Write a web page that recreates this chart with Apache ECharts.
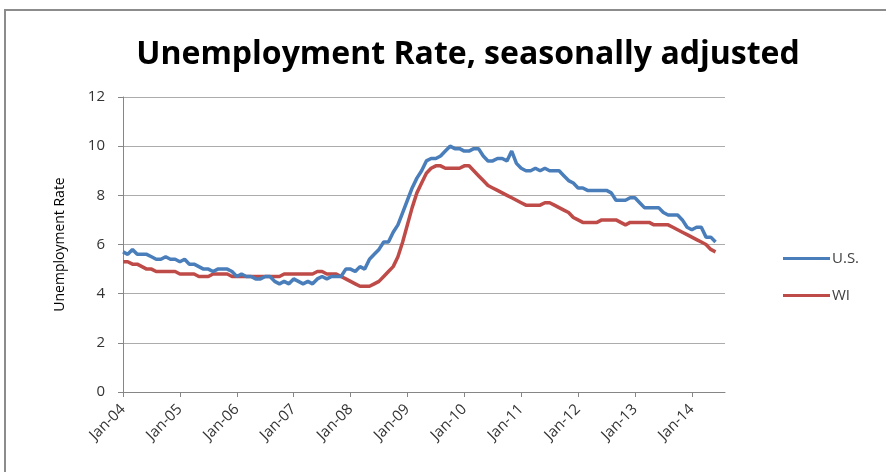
<!DOCTYPE html>
<html>
<head>
<meta charset="utf-8">
<title>Unemployment Rate, seasonally adjusted</title>
<script src="https://cdn.jsdelivr.net/npm/echarts@6/dist/echarts.min.js"></script>
<style>
  html, body { margin: 0; padding: 0; background: #ffffff; }
  #chart { width: 886px; height: 472px; }
</style>
</head>
<body>
<div id="chart"></div>
<script>
// Monthly axis: Jan 2004 through Aug 2014 (the last two months carry no data yet)
const monthNames = ['Jan', 'Feb', 'Mar', 'Apr', 'May', 'Jun', 'Jul', 'Aug', 'Sep', 'Oct', 'Nov', 'Dec'];
const firstYear = 2004;
const monthCount = 128;

// Y axis ticks
const yTicks = [0, 2, 4, 6, 8, 10, 12];

// U.S. unemployment rate, seasonally adjusted, monthly from Jan 2004
const usRate = [
  5.7, 5.6, 5.8, 5.6, 5.6, 5.6, 5.5, 5.4, 5.4, 5.5, 5.4, 5.4,
  5.3, 5.4, 5.2, 5.2, 5.1, 5.0, 5.0, 4.9, 5.0, 5.0, 5.0, 4.9,
  4.7, 4.8, 4.7, 4.7, 4.6, 4.6, 4.7, 4.7, 4.5, 4.4, 4.5, 4.4,
  4.6, 4.5, 4.4, 4.5, 4.4, 4.6, 4.7, 4.6, 4.7, 4.7, 4.7, 5.0,
  5.0, 4.9, 5.1, 5.0, 5.4, 5.6, 5.8, 6.1, 6.1, 6.5, 6.8, 7.3,
  7.8, 8.3, 8.7, 9.0, 9.4, 9.5, 9.5, 9.6, 9.8, 10.0, 9.9, 9.9,
  9.8, 9.8, 9.9, 9.9, 9.6, 9.4, 9.4, 9.5, 9.5, 9.4, 9.8, 9.3,
  9.1, 9.0, 9.0, 9.1, 9.0, 9.1, 9.0, 9.0, 9.0, 8.8, 8.6, 8.5,
  8.3, 8.3, 8.2, 8.2, 8.2, 8.2, 8.2, 8.1, 7.8, 7.8, 7.8, 7.9,
  7.9, 7.7, 7.5, 7.5, 7.5, 7.5, 7.3, 7.2, 7.2, 7.2, 7.0, 6.7,
  6.6, 6.7, 6.7, 6.3, 6.3, 6.1
];

// Wisconsin unemployment rate, seasonally adjusted, monthly from Jan 2004
const wiRate = [
  5.3, 5.3, 5.2, 5.2, 5.1, 5.0, 5.0, 4.9, 4.9, 4.9, 4.9, 4.9,
  4.8, 4.8, 4.8, 4.8, 4.7, 4.7, 4.7, 4.8, 4.8, 4.8, 4.8, 4.7,
  4.7, 4.7, 4.7, 4.7, 4.7, 4.7, 4.7, 4.7, 4.7, 4.7, 4.8, 4.8,
  4.8, 4.8, 4.8, 4.8, 4.8, 4.9, 4.9, 4.8, 4.8, 4.8, 4.7, 4.6,
  4.5, 4.4, 4.3, 4.3, 4.3, 4.4, 4.5, 4.7, 4.9, 5.1, 5.5, 6.1,
  6.8, 7.5, 8.1, 8.5, 8.9, 9.1, 9.2, 9.2, 9.1, 9.1, 9.1, 9.1,
  9.2, 9.2, 9.0, 8.8, 8.6, 8.4, 8.3, 8.2, 8.1, 8.0, 7.9, 7.8,
  7.7, 7.6, 7.6, 7.6, 7.6, 7.7, 7.7, 7.6, 7.5, 7.4, 7.3, 7.1,
  7.0, 6.9, 6.9, 6.9, 6.9, 7.0, 7.0, 7.0, 7.0, 6.9, 6.8, 6.9,
  6.9, 6.9, 6.9, 6.9, 6.8, 6.8, 6.8, 6.8, 6.7, 6.6, 6.5, 6.4,
  6.3, 6.2, 6.1, 6.0, 5.8, 5.7
];

const seriesNames = ['U.S.', 'WI'];
const seriesColors = ['#4a7ebb', '#be4b48'];

const months = [];
for (let i = 0; i < monthCount; i++) {
  const y = firstYear + Math.floor(i / 12);
  months.push(monthNames[i % 12] + '-' + String(y % 100).padStart(2, '0'));
}

const isJanuary = (idx) => idx % 12 === 0;
const font = '"Open Sans", "Noto Sans", sans-serif';

const chart = echarts.init(document.getElementById('chart'), null, { renderer: 'canvas' });

chart.setOption({
  backgroundColor: '#ffffff',
  animation: false,
  graphic: [{
    type: 'rect',
    shape: { x: 5, y: 10, width: 900, height: 480 },
    style: { fill: 'none', stroke: '#8c8c8c', lineWidth: 2 },
    silent: true
  }],
  title: {
    text: 'Unemployment Rate, seasonally adjusted',
    left: 463,
    textAlign: 'center',
    top: 34,
    textStyle: { fontFamily: font, fontWeight: 'bold', fontSize: 32, color: '#000000' }
  },
  legend: {
    orient: 'vertical',
    left: 778,
    top: 246,
    itemWidth: 47,
    itemHeight: 3,
    itemGap: 22,
    icon: 'rect',
    textStyle: { fontFamily: font, fontSize: 15, color: '#404040', padding: [0, 0, 0, -3] },
    data: seriesNames
  },
  grid: { left: 123, right: 161, top: 97, bottom: 80, containLabel: false },
  xAxis: {
    type: 'category',
    data: months,
    boundaryGap: false,
    axisLine: { lineStyle: { color: '#868686', width: 1 } },
    axisTick: { show: true, interval: (idx) => isJanuary(idx), length: 5, lineStyle: { color: '#868686' } },
    axisLabel: {
      interval: (idx) => isJanuary(idx),
      rotate: 45,
      margin: 15,
      fontFamily: font,
      fontSize: 15,
      color: '#333333'
    },
    splitLine: { show: false }
  },
  yAxis: {
    type: 'value',
    min: yTicks[0],
    max: yTicks[yTicks.length - 1],
    interval: 2,
    name: 'Unemployment Rate',
    nameLocation: 'middle',
    nameGap: 56,
    nameRotate: 90,
    nameTextStyle: { fontFamily: font, fontSize: 14, color: '#000000' },
    axisLine: { show: true, lineStyle: { color: '#868686', width: 1 } },
    axisTick: { show: true, length: 5, lineStyle: { color: '#868686' } },
    axisLabel: { margin: 18, fontFamily: font, fontSize: 15, color: '#333333' },
    splitLine: { show: true, lineStyle: { color: '#acacac', width: 1 } }
  },
  series: [
    {
      name: seriesNames[0],
      type: 'line',
      data: usRate,
      showSymbol: false,
      symbol: 'none',
      color: seriesColors[0],
      lineStyle: { width: 3.5, color: seriesColors[0] },
      z: 3
    },
    {
      name: seriesNames[1],
      type: 'line',
      data: wiRate,
      showSymbol: false,
      symbol: 'none',
      color: seriesColors[1],
      lineStyle: { width: 3.5, color: seriesColors[1] },
      z: 2
    }
  ]
});
</script>
</body>
</html>
